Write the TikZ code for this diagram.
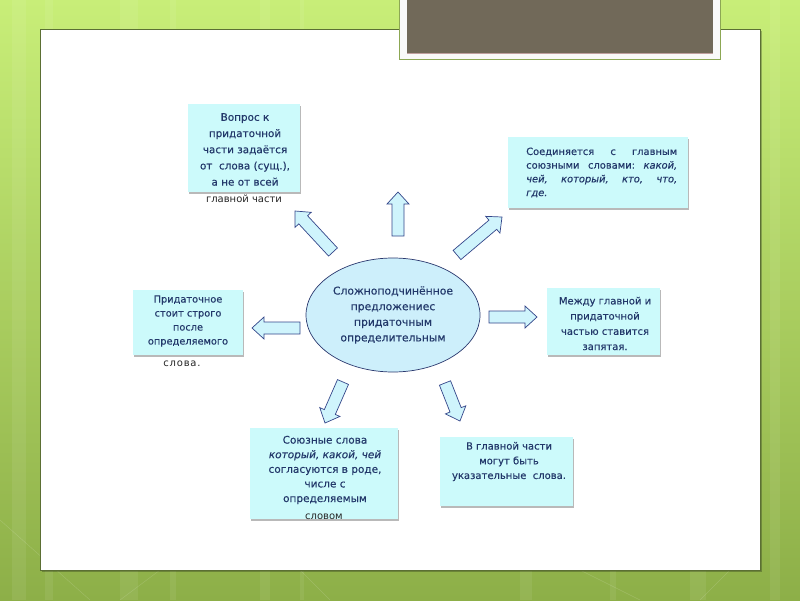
\documentclass[tikz,border=0pt]{standalone}
\usepackage{fontspec}
\setmainfont{DejaVu Sans}
\newfontfamily\boxfont{DejaVu Sans}[FakeBold=0.35]
\usetikzlibrary{calc,shadows,shapes.geometric}
\definecolor{boxc}{HTML}{CCFAFB}
\definecolor{txtc}{HTML}{22386A}
\definecolor{arrf}{HTML}{CFF4FC}
\definecolor{arrd}{HTML}{34468A}
\definecolor{ellf}{HTML}{CDEFFB}
\definecolor{bgtop}{HTML}{C8EE78}
\definecolor{bgbot}{HTML}{8DAF48}
\definecolor{brownc}{HTML}{716959}
\definecolor{panelb}{HTML}{5B6F34}
\newcommand\blockarr[2]{%
  \coordinate (#2h) at ($(#2)!12pt!(#1)$);
  \filldraw[blockarrow] ($(#1)!6pt!90:(#2)$) -- ($(#2h)!6pt!90:(#2)$) -- ($(#2h)!11pt!90:(#2)$) -- (#2)
    -- ($(#2h)!11pt!-90:(#2)$) -- ($(#2h)!6pt!-90:(#2)$) -- ($(#1)!6pt!-90:(#2)$) -- cycle;}
\newcommand\jline[1]{\makebox[151pt][l]{#1}}
\begin{document}
\begin{tikzpicture}[x=1pt,y=-1pt,
  boxst/.style={fill=boxc, inner sep=0pt, draw=none,
     drop shadow={shadow xshift=1pt, shadow yshift=-1.5pt, opacity=0.55, fill=gray}},
  txt/.style={text=txtc, align=center, inner sep=0pt},
  note/.style={text=black!85, inner sep=0pt, font=\fontsize{10}{11}\selectfont},
  blockarrow/.style={fill=arrf, draw=arrd, line width=0.7pt, line join=miter}]
\useasboundingbox (0,0) rectangle (800,600);
% background
\shade[top color=bgtop, bottom color=bgbot] (0,0) rectangle (800,600);
\foreach \sx/\sw in {12/14, 45/8, 120/18, 170/6, 260/10, 300/4, 520/12, 610/6, 690/16, 770/10}
  \fill[white, opacity=0.07] (\sx,0) rectangle ($(\sx,600)+(\sw,0)$);
\draw[white, opacity=0.15, line width=0.5pt] (0,520) -- (90,600) (160,570) -- (120,600) (300,570) -- (330,600)
  (580,570) -- (640,600) (700,600) -- (760,540);
% panel
\fill[black, opacity=0.25] (42,31) rectangle (762,572);
\filldraw[fill=white, draw=panelb, line width=0.8pt] (40,29) rectangle (760,570);
% title box
\filldraw[fill=white!95!gray, draw=bgtop!70!black, line width=0.6pt] (399,-2) rectangle (720,59);
\fill[brownc] (407,-2) rectangle (713,53);
\draw[gray!50!pink, line width=0.6pt] (407,53) -- (713,53);
% boxes
\node[boxst, minimum width=112pt, minimum height=88pt] (b1) at (244,148) {};
\node[boxst, minimum width=180pt, minimum height=71pt] (b2) at (598,172.5) {};
\node[boxst, minimum width=110pt, minimum height=65pt] (b3) at (188,322.5) {};
\node[boxst, minimum width=113pt, minimum height=67pt] (b4) at (603.5,321.5) {};
\node[boxst, minimum width=148pt, minimum height=91pt] (b5) at (324,473.5) {};
\node[boxst, minimum width=133pt, minimum height=69pt] (b6) at (506.5,471.5) {};
% texts
\node[txt, font=\boxfont\fontsize{10.4}{16.2}\selectfont] (t1) at (245,149.5)
  {Вопрос к\\придаточной\\части задаётся\\от\ \ слова (сущ.),\\а не от всей};
\node[note] (n1) at (244,199) {главной части};
\node[txt, align=left, anchor=west, font=\boxfont\fontsize{9.9}{13.7}\selectfont] (t2) at (526,172.5)
  {\jline{Соединяется\hfill с\hfill главным}\\
   \jline{союзными\hfill словами:\hfill\textit{какой,}}\\
   \jline{\textit{чей,}\hfill\textit{который,}\hfill\textit{кто,}\hfill\textit{что,}}\\
   \jline{\textit{где.}}};
\node[txt, font=\boxfont\fontsize{9.8}{14}\selectfont] (t3) at (188,321)
  {Придаточное\\стоит строго\\после\\определяемого};
\node[note, font=\fontsize{10}{11}\selectfont\addfontfeature{LetterSpace=8}] (n3) at (182,364) {слова.};
\node[txt, font=\boxfont\fontsize{10}{15.2}\selectfont] (t4) at (605,323.5)
  {Между главной и\\придаточной\\частью ставится\\запятая.};
\node[txt, font=\boxfont\fontsize{10.5}{14.6}\selectfont] (t5) at (325,470)
  {Союзные слова\\\textit{который, какой, чей}\\согласуются в роде,\\числе с\\определяемым};
\node[note] (n5) at (324,517) {словом};
\node[txt, font=\boxfont\fontsize{10}{14.7}\selectfont] (t6) at (509,461.5)
  {В главной части\\могут быть\\указательные\ \ слова.};
% centre ellipse
\node[ellipse, fill=ellf, draw=arrd!80!black, line width=0.7pt, minimum width=174pt, minimum height=114pt,
  txt, font=\boxfont\fontsize{10.8}{15.6}\selectfont] (c) at (393,315)
  {Сложноподчинённое\\предложениес\\придаточным\\определительным};
% arrows
\coordinate (upT) at (398,236);   \coordinate (upP) at (398,192);
\coordinate (ulT) at (333,252);   \coordinate (ulP) at (295,211);
\coordinate (urT) at (457,255);   \coordinate (urP) at (502,217);
\coordinate (lfT) at (300,328);   \coordinate (lfP) at (252,328);
\coordinate (rtT) at (489,317);   \coordinate (rtP) at (537,317);
\coordinate (dlT) at (343,382);   \coordinate (dlP) at (325,423);
\coordinate (drT) at (445,383);   \coordinate (drP) at (460,421);
\blockarr{upT}{upP}
\blockarr{ulT}{ulP}
\blockarr{urT}{urP}
\blockarr{lfT}{lfP}
\blockarr{rtT}{rtP}
\blockarr{dlT}{dlP}
\blockarr{drT}{drP}
\end{tikzpicture}
\end{document}
